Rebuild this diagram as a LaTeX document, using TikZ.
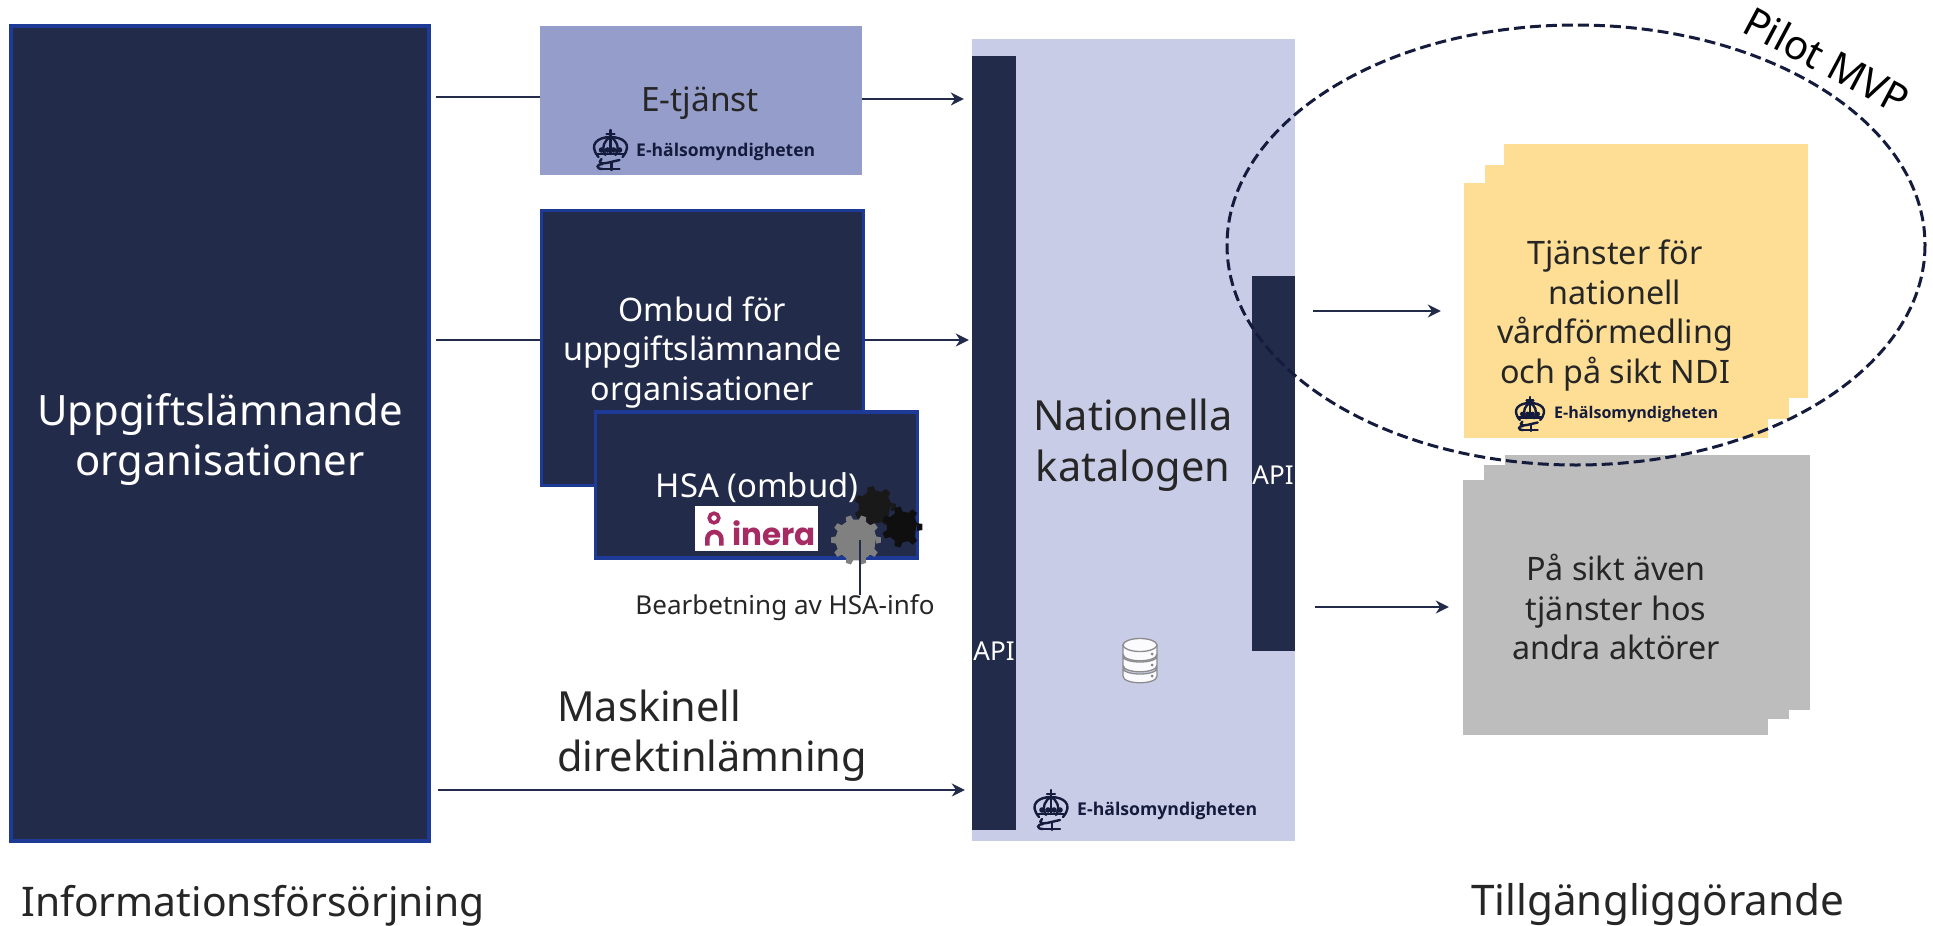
\documentclass[tikz,border=0pt]{standalone}
\usepackage{fontspec}
\setmainfont{Noto Sans}
\newfontfamily\ineraFont{Poppins}
\newfontfamily\logoFont{Open Sans}
\usetikzlibrary{arrows.meta,calc}
\definecolor{navy}{HTML}{232B4B}
\definecolor{edge}{HTML}{1D3A96}
\definecolor{etj}{HTML}{959DCB}
\definecolor{cat}{HTML}{C8CCE6}
\definecolor{yel}{HTML}{FDDE94}
\definecolor{gry}{HTML}{BDBDBD}
\definecolor{ink}{HTML}{262626}
\definecolor{logoc}{HTML}{141B3C}
\definecolor{inerac}{HTML}{A62B62}
\newcommand{\fs}[2]{\fontsize{#1}{#2}\selectfont}
\newcommand{\gearpath}[5]{% center, ro, ri, colour, teeth
  \fill[#4] ($(#1)+({-0.28*360/#5}:#3)$)
  \foreach \i in {1,...,#5} {
    -- ($(#1)+({(\i-0.28)*360/#5}:#3)$) -- ($(#1)+({(\i-0.17)*360/#5}:#2)$) -- ($(#1)+({(\i+0.17)*360/#5}:#2)$) -- ($(#1)+({(\i+0.28)*360/#5}:#3)$)
  } -- cycle;}
\tikzset{
  darkbox/.style={draw=edge,line width=3.5pt,fill=navy,inner sep=0pt},
  flatbox/.style={inner sep=0pt,align=center},
  apibar/.style={fill=navy,inner sep=0pt},
  apilabel/.style={text=white,font=\fs{26}{30},inner sep=0pt},
  yellowbox/.style={fill=yel,inner sep=0pt},
  greybox/.style={fill=gry,inner sep=0pt},
  conn/.style={draw=navy,line width=1.8pt},
  arrowconn/.style={conn,-{Stealth[length=13pt,width=13pt]}},
  bigtext/.style={text=ink,font=\fs{41.5}{50.5},inner sep=0pt},
  midtext/.style={text=ink,font=\fs{32.3}{39.5},inner sep=0pt,align=center},
  whitetext/.style={midtext,text=white},
  logotext/.style={inner sep=0pt,text=logoc,font=\logoFont\bfseries\fs{20}{24}},
  pics/crown/.style={code={
    \begin{scope}[draw=logoc,line width=2.4pt,line cap=round]
      \draw (0,-20) -- (0,-10);
      \draw (-4,-16) -- (4,-16);
      \draw (-12,7) .. controls (-23,-6) and (-12,-13) .. (0,-13) .. controls (12,-13) and (23,-6) .. (12,7);
      \draw (-5,5) .. controls (-10,-3) and (-5,-11) .. (0,-13) .. controls (5,-11) and (10,-3) .. (5,5);
      \draw (-14,4) -- (14,4);
      \draw (0,-10) -- (0,4);
      \fill[logoc] (-9,0) circle (2.8) (-3,0) circle (2.8) (3,0) circle (2.8) (9,0) circle (2.8);
      \draw (-9,9) .. controls (-13,13) and (-9,14) .. (-4,13) -- (9,10);
      \draw (-8,19) .. controls (-15,19) and (-14,14) .. (-8,14);
      \draw (-8,19) -- (9,19);
      \draw (1,13) -- (1,20);
    \end{scope}
  }}
}
\begin{document}
\begin{tikzpicture}[x=1pt,y=-1pt]
\useasboundingbox (0,0) rectangle (1933,926);
% central catalogue
\node[flatbox,fill=cat,minimum width=323pt,minimum height=802pt] (catalog) at (1133,440) {};
\node[apibar,minimum width=44pt,minimum height=774pt] (apiL) at (994,443) {};
\node[apilabel] (apiLt) at (994,651) {API};
\node[apibar,minimum width=43pt,minimum height=375pt] (apiR) at (1273.5,463.5) {};
\node[apilabel] (apiRt) at (1273,475) {API};
\node[bigtext,align=center] (cattext) at (1133,445) {Nationella\\katalogen};
% left column
\node[darkbox,minimum width=418pt,minimum height=815pt] (left) at (220,433.5) {};
\node[whitetext,font=\fs{41.8}{50}] (lefttext) at (220,439.5) {Uppgiftslämnande\\organisationer};
\node[flatbox,fill=etj,minimum width=322pt,minimum height=149pt] (etjanst) at (701,100.5) {};
\node[midtext,font=\fs{33.5}{36}] (etjtext) at (700,103) {E-tjänst};
\node[darkbox,minimum width=322pt,minimum height=275pt] (ombud) at (702.5,348) {};
\node[whitetext] (ombudtext) at (702.5,352.5) {Ombud för\\uppgiftslämnande\\organisationer};
\node[darkbox,minimum width=322pt,minimum height=146pt] (hsa) at (756.5,485) {};
\node[whitetext,font=\fs{32.8}{36}] (hsatext) at (757,488) {HSA (ombud)};
% inera
\node[fill=white,inner sep=0pt,minimum width=123pt,minimum height=45pt] (inerabox) at (756.5,528.5) {};
\node[inner sep=0pt,text=inerac,anchor=base west,font=\ineraFont\bfseries\fs{31}{36}] (ineratext) at (732,545.5) {inera};
\draw[inerac,line width=3.6pt] (714,518) circle (4.8);
\draw[inerac,line width=4.6pt] (707.3,545.5) -- (707.3,539) arc[start angle=180,end angle=360,radius=7] -- (721.3,545.5);
% gears
\coordinate (g1) at (875,507);
\coordinate (g2) at (902,527);
\coordinate (g3) at (856,540);
\coordinate (gearline) at (860,540);
\gearpath{g1}{21}{16.5}{black!90}{7}
\gearpath{g2}{20.5}{15.5}{black!94}{7}
\gearpath{g3}{25}{20.5}{black!50}{10}
\node[inner sep=0pt,text=ink,font=\fs{26}{30}] (bearb) at (785,608) {Bearbetning av HSA-info};
\draw[conn] (gearline) -- (gearline |- bearb.north);
% machine label
\node[bigtext,anchor=west,align=left] (mask) at (557,735.5) {Maskinell\\direktinlämning};
% right stacks
\node[yellowbox,minimum width=304pt,minimum height=254pt] (y3) at (1656,271) {};
\node[yellowbox,minimum width=304pt,minimum height=254pt] (y2) at (1637,292) {};
\node[yellowbox,minimum width=304pt,minimum height=255pt] (y1) at (1616,310.5) {};
\node[midtext] (ytext) at (1615,315.5) {Tjänster för\\nationell\\vårdförmedling\\och på sikt NDI};
\node[greybox,minimum width=305pt,minimum height=255pt] (g3box) at (1657.5,582.5) {};
\node[greybox,minimum width=305pt,minimum height=254pt] (g2box) at (1636.5,592) {};
\node[greybox,minimum width=305pt,minimum height=255pt] (g1box) at (1615.5,607.5) {};
\node[midtext] (gtext) at (1616,607) {På sikt även\\tjänster hos\\andra aktörer};
% logos
\pic at (610.5,150) {crown};
\node[logotext,anchor=west] (logo1) at (636,152) {\resizebox{179pt}{!}{E-hälsomyndigheten}};
\pic at (1051,810) {crown};
\node[logotext,anchor=west] (logo2) at (1077,811) {\resizebox{180pt}{!}{E-hälsomyndigheten}};
\pic[scale=.85] at (1530,414) {crown};
\node[logotext,anchor=west] (logo3) at (1554,414) {\resizebox{164pt}{!}{E-hälsomyndigheten}};
% database icon
\begin{scope}[draw=black!45,fill=white!92!cat,line width=1.3pt]
  \filldraw (1123,668) -- (1123,676) .. controls (1123,685) and (1157,685) .. (1157,676) -- (1157,668) .. controls (1157,676) and (1123,676) .. (1123,668) -- cycle;
  \filldraw (1123,656) -- (1123,665) .. controls (1123,674) and (1157,674) .. (1157,665) -- (1157,656) .. controls (1157,664) and (1123,664) .. (1123,656) -- cycle;
  \filldraw (1123,645) -- (1123,654) .. controls (1123,663) and (1157,663) .. (1157,654) -- (1157,645) -- cycle;
  \filldraw (1140,645) ellipse [x radius=17,y radius=6.5];
  \fill[black!50] (1152,654) circle (1.5) (1152,665) circle (1.5) (1152,676) circle (1.5);
\end{scope}
% connectors
\coordinate (rowA) at (0,97);
\coordinate (rowA2) at (0,99);
\coordinate (rowB) at (0,340);
\coordinate (rowC) at (0,790);
\coordinate (rowD) at (0,311);
\coordinate (rowE) at (0,607);
\draw[conn,shorten <=5pt] (left.east |- rowA) -- (etjanst.west |- rowA);
\draw[arrowconn,shorten >=8pt] (etjanst.east |- rowA2) -- (apiL.west |- rowA2);
\draw[conn,shorten <=5pt] (left.east |- rowB) -- (ombud.west |- rowB);
\draw[arrowconn,shorten >=3pt] (ombud.east |- rowB) -- (apiL.west |- rowB);
\draw[arrowconn,shorten <=7pt,shorten >=7pt] (left.east |- rowC) -- (apiL.west |- rowC);
\draw[arrowconn,shorten <=18pt,shorten >=23pt] (apiR.east |- rowD) -- (y1.west |- rowD);
\draw[arrowconn,shorten <=20pt,shorten >=14pt] (apiR.east |- rowE) -- (g1box.west |- rowE);
% pilot ellipse
\draw[draw=logoc,line width=3pt,dash pattern=on 11pt off 5pt] (1576,245) ellipse [x radius=349,y radius=220];
\node[text=black,rotate=-28,font=\fs{40.5}{44},inner sep=0pt] (pilot) at (1827,60) {Pilot MVP};
% footers
\node[bigtext,anchor=base west,font=\fs{40.8}{50}] (info) at (21,916) {Informationsförsörjning};
\node[bigtext,anchor=base west,font=\fs{42.2}{50}] (till) at (1471,915) {Tillgängliggörande};
\end{tikzpicture}
\end{document}
